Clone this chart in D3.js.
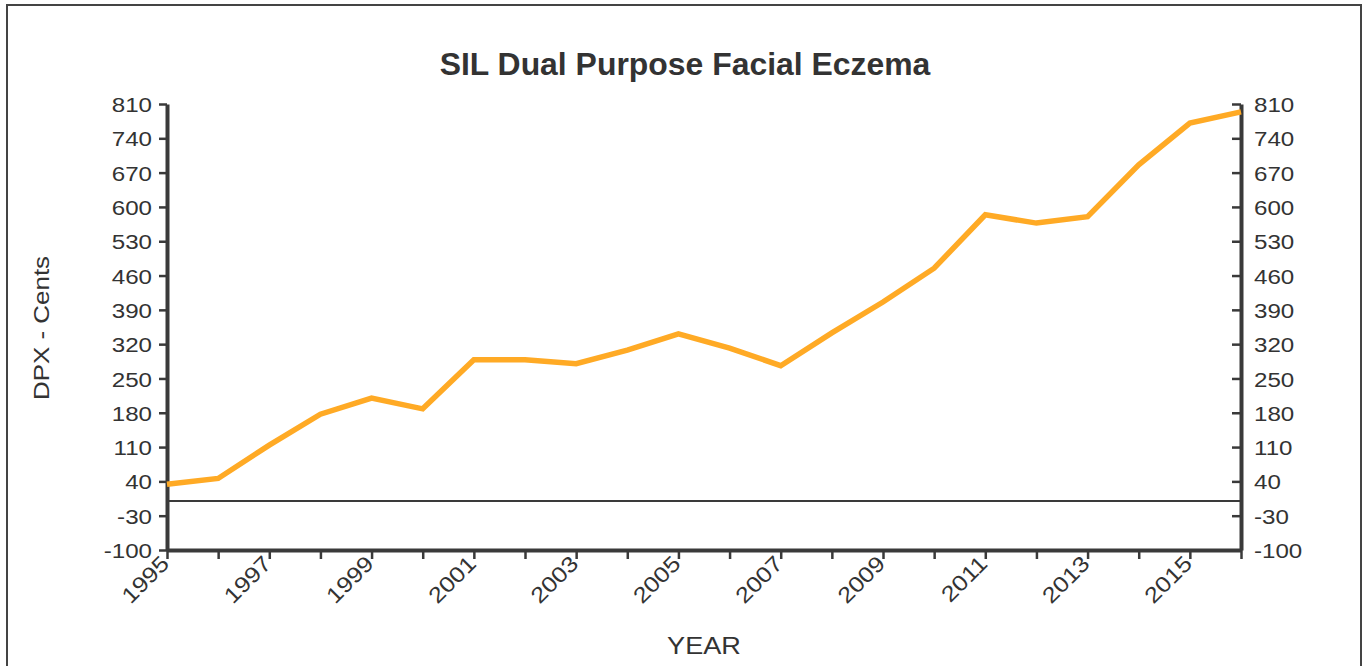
<!DOCTYPE html>
<html><head><meta charset="utf-8">
<script src="https://cdn.jsdelivr.net/npm/d3@7"></script>
<style>
body{margin:0;background:#fff;}
text{font-family:"Liberation Sans",Arial,sans-serif;}
</style></head>
<body>
<svg id="c" width="1366" height="666"></svg>
<script>
const years = [1995,1996,1997,1998,1999,2000,2001,2002,2003,2004,2005,2006,2007,2008,2009,2010,2011,2012,2013,2014,2015,2016];
const values = [34,46,114,177,210,188,288,288,280,308,341,312,276,343,406,475,584,567,580,686,771,794];
const yTicks = [-100,-30,40,110,180,250,320,390,460,530,600,670,740,810];
const xLabelYears = [1995,1997,1999,2001,2003,2005,2007,2009,2011,2013,2015];

const svg = d3.select("#c");
const L=167, R=1241, T=104, B=550;
const x = d3.scaleLinear().domain([1995,2016]).range([L,R]);
const y = d3.scaleLinear().domain([-100,810]).range([B,T]);
const axisCol="#3a3a3a", txtCol="#333";
const SX = 1.15;

svg.append("rect").attr("x",7).attr("y",5).attr("width",1354).attr("height",670)
  .attr("fill","none").attr("stroke","#444").attr("stroke-width",2);

svg.append("text").attr("transform","translate(685,75) scale(1.03,1)").attr("text-anchor","middle")
  .attr("font-size",31).attr("font-weight","bold").attr("fill",txtCol).text("SIL Dual Purpose Facial Eczema");

// zero line
svg.append("line").attr("x1",L).attr("x2",R).attr("y1",y(0)).attr("y2",y(0))
  .attr("stroke",axisCol).attr("stroke-width",2);

const fmt = d => String(d);
const gl = svg.append("g").attr("transform",`translate(${L},0)`)
  .call(d3.axisLeft(y).tickValues(yTicks).tickFormat(fmt).tickSize(8).tickPadding(7).tickSizeOuter(0));
const gr = svg.append("g").attr("transform",`translate(${R},0)`)
  .call(d3.axisRight(y).tickValues(yTicks).tickFormat(fmt).tickSize(-9).tickPadding(13).tickSizeOuter(0));
const gx = svg.append("g").attr("transform",`translate(0,${B})`)
  .call(d3.axisBottom(x).tickValues(years).tickSize(9).tickSizeOuter(0)
    .tickFormat(d => xLabelYears.includes(d) ? String(d) : ""));

[gl,gr,gx].forEach(g=>{
  g.select(".domain").attr("stroke",axisCol).attr("stroke-width",4);
  g.selectAll(".tick line").attr("stroke",axisCol).attr("stroke-width",2.5);
  g.selectAll(".tick text").attr("fill",txtCol).attr("font-size",21)
    .attr("font-family",'"Liberation Sans",Arial,sans-serif');
});
[gl,gr].forEach(g=>{
  g.selectAll(".tick text").each(function(){
    const t=d3.select(this); const xx=+t.attr("x");
    t.attr("x",0).attr("dy","0.36em").attr("transform",`translate(${xx},0) scale(${SX},1)`);
  });
});
gx.selectAll(".tick text").attr("text-anchor","end").attr("dy",0).attr("y",0).attr("font-size",22)
  .attr("transform",`translate(3,15) rotate(-45) scale(${SX},1)`);

// line
svg.append("path").datum(years.map((d,i)=>[d,values[i]]))
  .attr("fill","none").attr("stroke","#FFAA25").attr("stroke-width",5.5)
  .attr("stroke-linejoin","miter")
  .attr("d", d3.line().x(d=>x(d[0])).y(d=>y(d[1])));

// axis titles
svg.append("text").attr("transform","translate(49,328) rotate(-90) scale(1.18,1)").attr("text-anchor","middle")
  .attr("font-size",22).attr("fill",txtCol).text("DPX - Cents");
svg.append("text").attr("transform","translate(704,654) scale(1.13,1)").attr("text-anchor","middle")
  .attr("font-size",24).attr("fill",txtCol).text("YEAR");
</script>
</body></html>
